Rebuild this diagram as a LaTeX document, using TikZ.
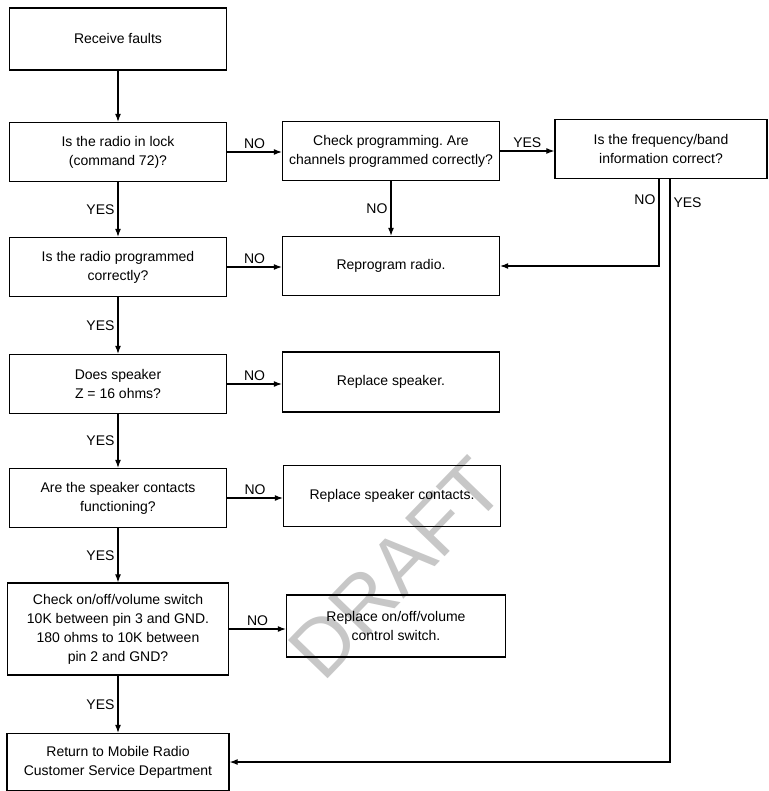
\documentclass[tikz,border=0pt]{standalone}
\usepackage{fontspec}
\setmainfont{Liberation Sans}
\frenchspacing
\usetikzlibrary{arrows.meta,positioning}

\begin{document}
\begin{tikzpicture}[x=1pt,y=-1pt]
  \tikzstyle{check}=[draw,line width=1.4pt,minimum width=217pt,minimum height=59pt,
    align=center,inner sep=2pt,font=\fontsize{14}{19}\selectfont]
  \tikzstyle{flow}=[-{Latex[length=8pt,width=6pt]},line width=1.1pt]
  \tikzstyle{lbl}=[font=\fontsize{14}{16}\selectfont,inner sep=3pt]
  \useasboundingbox (0,0) rectangle (768,791);
  % Watermark, under everything else
  \node[rotate=46,text=black!22,font=\fontsize{80}{80}\selectfont] (draft) at (396,568) {DRAFT};
  % Left column: the checks
  \node[check,minimum height=62pt] (recv) at (118,39) {Receive faults};
  \node[check] (lock) at (118,152) {Is the radio in lock\\(command 72)?};
  \node[check] (prog) at (118,267) {Is the radio programmed\\correctly?};
  \node[check] (spk) at (118,384) {Does speaker\\Z = 16 ohms?};
  \node[check] (contacts) at (118,498) {Are the speaker contacts\\functioning?};
  \node[check,minimum width=221pt,minimum height=92pt] (onoff) at (118,629)
    {Check on/off/volume switch\\10K between pin 3 and GND.\\180 ohms to 10K between\\pin 2 and GND?};
  \node[check,minimum width=222pt,minimum height=57pt] (ret) at (118,762)
    {Return to Mobile Radio\\Customer Service Department};
  % Middle column: the repairs
  \node[check] (chkprog) at (391,151) {Check programming. Are\\channels programmed correctly?};
  \node[check] (reprog) at (391,266) {Reprogram radio.};
  \node[check,minimum height=60pt] (repspk) at (391,382) {Replace speaker.};
  \node[check,minimum height=61pt] (repcon) at (392,496) {Replace speaker contacts.};
  \node[check,minimum width=219pt,minimum height=62pt] (reponoff) at (396,626)
    {Replace on/off/volume\\control switch.};
  % Right column
  \node[check,minimum width=212pt] (freq) at (661,149) {Is the frequency/band\\information correct?};
  % Main line down the left
  \draw[flow] (recv) -- (lock);
  \draw[flow] (lock) -- (prog) node[lbl,midway,left] {YES};
  \draw[flow] (prog) -- (spk) node[lbl,midway,left] {YES};
  \draw[flow] (spk) -- (contacts) node[lbl,midway,left] {YES};
  \draw[flow] (contacts) -- (onoff) node[lbl,midway,left] {YES};
  \draw[flow] (onoff) -- (ret) node[lbl,midway,left] {YES};
  % NO branches to the right
  \draw[flow] (lock.east) -- (lock.east -| chkprog.west) node[lbl,midway,above] {NO};
  \draw[flow] (prog.east) -- (prog.east -| reprog.west) node[lbl,midway,above] {NO};
  \draw[flow] (spk.east) -- (spk.east -| repspk.west) node[lbl,midway,above] {NO};
  \draw[flow] (contacts.east) -- (contacts.east -| repcon.west) node[lbl,midway,above] {NO};
  \draw[flow] (onoff.east) -- (onoff.east -| reponoff.west) node[lbl,midway,above] {NO};
  \draw[flow] (chkprog) -- (reprog) node[lbl,midway,left] {NO};
  \draw[flow] (chkprog.east) -- (chkprog.east -| freq.west) node[lbl,midway,above] {YES};
  % Frequency check comes back round
  \draw[flow] ([xshift=-2pt]freq.south) |- (reprog.east) node[lbl,pos=0.12,left] {NO};
  \draw[flow] ([xshift=9pt]freq.south) |- (ret.east) node[lbl,pos=0.02,right] {YES};
\end{tikzpicture}
\end{document}
